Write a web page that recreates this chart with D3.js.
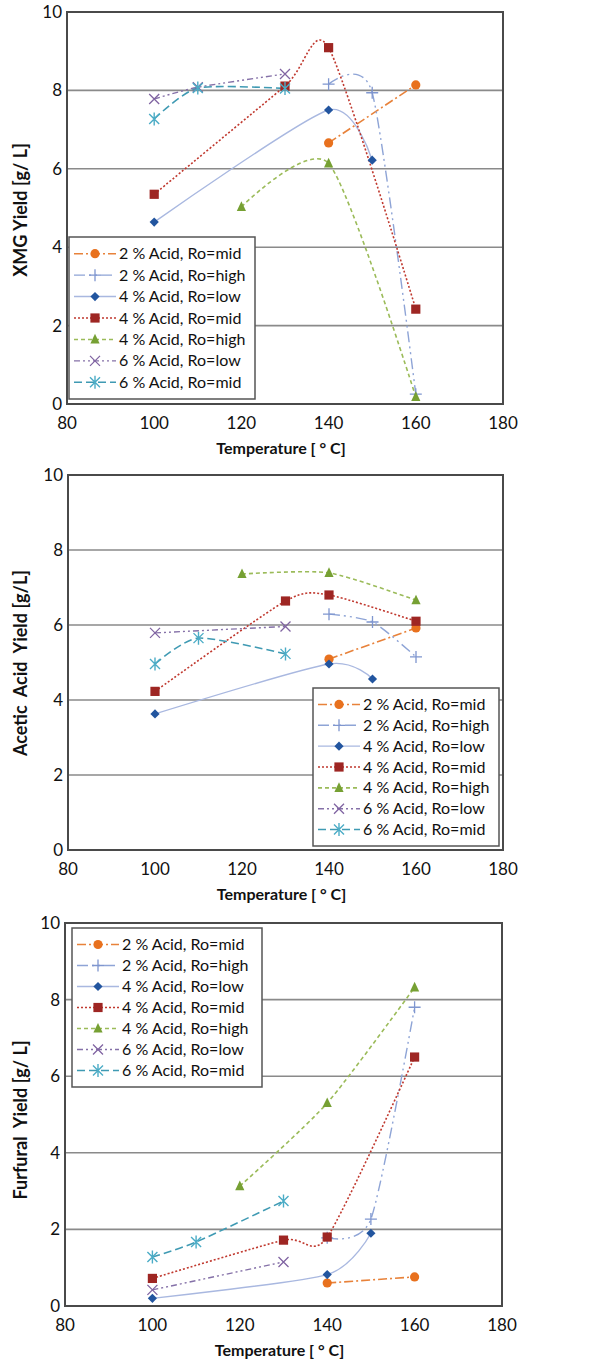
<!DOCTYPE html>
<html>
<head>
<meta charset="utf-8">
<script src="https://cdn.jsdelivr.net/npm/d3@7"></script>
<style>
  body { margin: 0; background: #fff; }
  svg { display: block; }
  .tick-label { font-family: Lato, "Open Sans", sans-serif; font-size: 17px; fill: #111; }
  .legend-label { font-family: Lato, "Open Sans", sans-serif; font-size: 16px; fill: #111; }
  .axis-title { font-family: Lato, "Open Sans", sans-serif; font-weight: bold; font-size: 16px; fill: #111; }
  .y-title { font-family: Lato, "Open Sans", sans-serif; font-weight: bold; font-size: 18px; fill: #111; white-space: pre; }
</style>
</head>
<body>
<div id="chart"></div>
<script>
// series order is the same in every panel
var seriesLabels = ["2 % Acid, Ro=mid", "2 % Acid, Ro=high", "4 % Acid, Ro=low", "4 % Acid, Ro=mid",
                    "4 % Acid, Ro=high", "6 % Acid, Ro=low", "6 % Acid, Ro=mid"];
var xTicks = [80, 100, 120, 140, 160, 180];
var yTicks = [0, 2, 4, 6, 8, 10];

// [temperature, yield g/L]
var xmgYield = [
  [[140, 6.66], [160, 8.14]],
  [[140, 8.16], [150, 7.94], [160, 0.25]],
  [[100, 4.64], [140, 7.5], [150, 6.22]],
  [[100, 5.35], [130, 8.11], [140, 9.09], [160, 2.42]],
  [[120, 5.03], [140, 6.14], [160, 0.18]],
  [[100, 7.78], [110, 8.08], [130, 8.42]],
  [[100, 7.27], [110, 8.06], [130, 8.05]]
];
var aceticYield = [
  [[140, 5.09], [160, 5.92]],
  [[140, 6.29], [150, 6.08], [160, 5.15]],
  [[100, 3.63], [140, 4.96], [150, 4.56]],
  [[100, 4.23], [130, 6.64], [140, 6.8], [160, 6.1]],
  [[120, 7.36], [140, 7.39], [160, 6.66]],
  [[100, 5.79], [130, 5.96]],
  [[100, 4.96], [110, 5.65], [130, 5.23]]
];
var furfuralYield = [
  [[140, 0.6], [160, 0.76]],
  [[140, 1.78], [150, 2.27], [160, 7.8]],
  [[100, 0.2], [140, 0.82], [150, 1.9]],
  [[100, 0.72], [130, 1.72], [140, 1.8], [160, 6.5]],
  [[120, 3.13], [140, 5.3], [160, 8.32]],
  [[100, 0.42], [130, 1.15]],
  [[100, 1.28], [110, 1.67], [130, 2.74]]
];

var W = 609, H = 1365;

// look of every series: line colour, dash, marker
var styles = [
  {line: "#E8823A", dash: "9,3,2,3", width: 1.6, marker: "circle", fill: "#E8711E"},
  {line: "#8EA4D6", dash: "11,4,2,4,2,4", width: 1.4, marker: "plus", fill: "#7F96CF"},
  {line: "#A9B8E0", dash: null, width: 1.4, marker: "diamond", fill: "#22559F"},
  {line: "#C0392F", dash: "2,2", width: 1.6, marker: "square", fill: "#9E2623"},
  {line: "#9BBB59", dash: "4,3", width: 1.6, marker: "triangle", fill: "#76A033"},
  {line: "#8571A8", dash: "6,3,2,3,2,3", width: 1.4, marker: "x", fill: "#8064A2"},
  {line: "#3F9AB3", dash: "8,4", width: 1.6, marker: "star", fill: "#4BACC6"}
];

var panels = [
  {data: xmgYield, left: 67, right: 503, top: 12, bottom: 404, yMid: 210,
   yTitle: "XMG Yield [g/ L]", legend: {x: 69, y: 237, w: 186, h: 162}},
  {data: aceticYield, left: 68, right: 503, top: 475, bottom: 850, yMid: 663,
   yTitle: "Acetic  Acid  Yield [g/L]", legend: {x: 313, y: 688, w: 186, h: 158}},
  {data: furfuralYield, left: 65, right: 502, top: 923, bottom: 1306, yMid: 1120,
   yTitle: "Furfural  Yield [g/ L]", legend: {x: 72, y: 928, w: 190, h: 159}}
];

var svg = d3.select("#chart").append("svg").attr("width", W).attr("height", H);

function drawMarker(g, kind, st, cx, cy) {
  var s = 4.6;
  if (kind === "circle") {
    g.append("circle").attr("cx", cx).attr("cy", cy).attr("r", s).attr("fill", st.fill);
  } else if (kind === "square") {
    g.append("rect").attr("x", cx - s).attr("y", cy - s).attr("width", 2 * s).attr("height", 2 * s)
      .attr("fill", st.fill);
  } else if (kind === "diamond") {
    g.append("path").attr("d", "M" + cx + "," + (cy - s) + "L" + (cx + s) + "," + cy + "L" + cx + "," + (cy + s) +
      "L" + (cx - s) + "," + cy + "Z").attr("fill", st.fill);
  } else if (kind === "triangle") {
    g.append("path").attr("d", "M" + cx + "," + (cy - s - 1) + "L" + (cx + s) + "," + (cy + s - 0.5) +
      "L" + (cx - s) + "," + (cy + s - 0.5) + "Z").attr("fill", st.fill);
  } else if (kind === "plus") {
    g.append("path").attr("d", "M" + (cx - 6) + "," + cy + "H" + (cx + 6) + "M" + cx + "," + (cy - 6) + "V" + (cy + 6))
      .attr("stroke", st.fill).attr("stroke-width", 1.3).attr("fill", "none");
  } else if (kind === "x") {
    g.append("path").attr("d", "M" + (cx - 5) + "," + (cy - 5) + "L" + (cx + 5) + "," + (cy + 5) +
      "M" + (cx - 5) + "," + (cy + 5) + "L" + (cx + 5) + "," + (cy - 5))
      .attr("stroke", st.fill).attr("stroke-width", 1.3).attr("fill", "none");
  } else if (kind === "star") {
    g.append("path").attr("d", "M" + (cx - 5) + "," + (cy - 5) + "L" + (cx + 5) + "," + (cy + 5) +
      "M" + (cx - 5) + "," + (cy + 5) + "L" + (cx + 5) + "," + (cy - 5) +
      "M" + cx + "," + (cy - 6.5) + "V" + (cy + 6.5))
      .attr("stroke", st.fill).attr("stroke-width", 1.4).attr("fill", "none");
  }
}

panels.forEach(function(p) {
  var x = d3.scaleLinear().domain([80, 180]).range([p.left, p.right]);
  var y = d3.scaleLinear().domain([0, 10]).range([p.bottom, p.top]);
  var g = svg.append("g");

  // grid lines
  g.selectAll("line.grid").data(yTicks.filter(function(t) { return t > 0 && t < 10; }))
    .enter().append("line")
    .attr("x1", p.left).attr("x2", p.right)
    .attr("y1", function(d) { return y(d); }).attr("y2", function(d) { return y(d); })
    .attr("stroke", "#8a8a8a").attr("stroke-width", 1.6);

  // plot frame
  g.append("rect").attr("x", p.left).attr("y", p.top)
    .attr("width", p.right - p.left).attr("height", p.bottom - p.top)
    .attr("fill", "none").attr("stroke", "#4a4a4a").attr("stroke-width", 2);

  // tick labels
  g.selectAll("text.ytick").data(yTicks).enter().append("text")
    .attr("class", "tick-label")
    .attr("x", p.left - 5).attr("y", function(d) { return y(d) + 6; })
    .attr("text-anchor", "end").text(function(d) { return d; });
  g.selectAll("text.xtick").data(xTicks).enter().append("text")
    .attr("class", "tick-label")
    .attr("x", function(d) { return x(d); }).attr("y", p.bottom + 25)
    .attr("text-anchor", "middle").text(function(d) { return d; });

  // axis titles
  g.append("text").attr("class", "axis-title")
    .attr("x", (p.left + p.right) / 2 - 4).attr("y", p.bottom + 50)
    .attr("text-anchor", "middle").text("Temperature [ ° C]");
  g.append("text").attr("class", "y-title")
    .attr("transform", "translate(27," + p.yMid + ") rotate(-90)")
    .attr("text-anchor", "middle").text(p.yTitle);

  // smoothed lines, like the spreadsheet's
  var line = d3.line().x(function(d) { return x(d[0]); }).y(function(d) { return y(d[1]); })
    .curve(d3.curveCardinal.tension(0.3));
  p.data.forEach(function(pts, i) {
    var st = styles[i];
    g.append("path").attr("d", line(pts)).attr("fill", "none")
      .attr("stroke", st.line).attr("stroke-width", st.width)
      .attr("stroke-dasharray", st.dash);
  });
  p.data.forEach(function(pts, i) {
    pts.forEach(function(d) { drawMarker(g, styles[i].marker, styles[i], x(d[0]), y(d[1])); });
  });

  // legend
  var L = p.legend;
  var lg = g.append("g");
  lg.append("rect").attr("x", L.x).attr("y", L.y).attr("width", L.w).attr("height", L.h)
    .attr("fill", "#fff").attr("stroke", "#555").attr("stroke-width", 1.5);
  var rowH = (L.h - 12) / seriesLabels.length;
  seriesLabels.forEach(function(lab, i) {
    var cy = L.y + 6 + rowH * (i + 0.5);
    var st = styles[i];
    lg.append("line").attr("x1", L.x + 5).attr("x2", L.x + 47).attr("y1", cy).attr("y2", cy)
      .attr("stroke", st.line).attr("stroke-width", st.width).attr("stroke-dasharray", st.dash);
    drawMarker(lg, st.marker, st, L.x + 26, cy);
    lg.append("text").attr("class", "legend-label").attr("x", L.x + 50).attr("y", cy + 5.5).text(lab);
  });
});
</script>
</body>
</html>
